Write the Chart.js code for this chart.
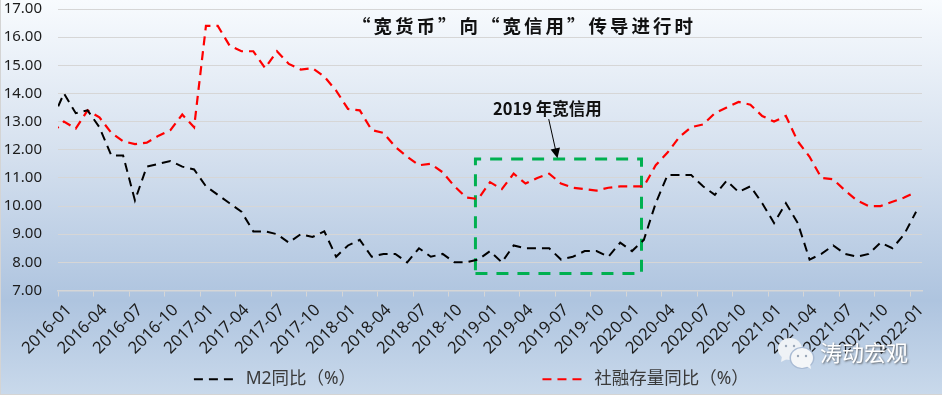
<!DOCTYPE html>
<html><head><meta charset="utf-8">
<style>
html,body{margin:0;padding:0}
#w{width:942px;height:395px;position:relative;overflow:hidden;box-sizing:border-box;
background:linear-gradient(180deg,#f8fbfe 0%,#d6e1ef 38%,#aec4df 76%,#c9d9eb 100%);
box-shadow:inset 1px -1px 0 #d4d4d4}
canvas{display:block;position:absolute;left:0;top:0}
</style>
<script src="https://cdn.jsdelivr.net/npm/chart.js@4"></script>
</head><body><div id="w"><canvas id="c" width="942" height="395"></canvas></div>
<script>
const tickLabels=['2016-01','2016-04','2016-07','2016-10','2017-01','2017-04','2017-07','2017-10','2018-01','2018-04','2018-07','2018-10','2019-01','2019-04','2019-07','2019-10','2020-01','2020-04','2020-07','2020-10','2021-01','2021-04','2021-07','2021-10','2022-01'];
// the first value belongs to the month before the axis starts; it is clipped at the left edge
const m2Values=[13.06,
14.0,13.3,13.4,12.8,11.8,11.8,10.2,11.4,11.5,11.6,11.4,11.3,
10.7,10.4,10.1,9.8,9.1,9.1,9.0,8.7,9.0,8.9,9.1,8.2,
8.6,8.8,8.2,8.3,8.3,8.0,8.5,8.2,8.3,8.0,8.0,8.1,
8.4,8.0,8.6,8.5,8.5,8.5,8.1,8.2,8.4,8.4,8.2,8.7,
8.4,8.8,10.1,11.1,11.1,11.1,10.7,10.4,10.9,10.5,10.7,10.1,
9.4,10.1,9.4,8.1,8.3,8.6,8.3,8.2,8.3,8.7,8.5,9.0,
9.8];
const tsfValues=[12.6,
13.0,12.75,13.4,13.15,12.6,12.3,12.2,12.25,12.5,12.7,13.25,12.8,
16.4,16.4,15.7,15.5,15.5,14.9,15.5,15.05,14.85,14.9,14.6,14.1,
13.45,13.4,12.7,12.6,12.1,11.75,11.45,11.5,11.2,10.7,10.3,10.25,
10.85,10.6,11.15,10.8,11.0,11.15,10.8,10.65,10.6,10.55,10.65,10.7,
10.7,10.7,11.45,11.9,12.45,12.8,12.9,13.3,13.5,13.7,13.6,13.2,
13.0,13.2,12.3,11.75,11.0,10.95,10.55,10.2,10.0,10.0,10.15,10.3,
10.5];
const yMin=7,yMax=17,monthCount=73,ticksEvery=3;
const boxX=[35.27,49.3],boxY=[7.6,11.67];
const arrowFrom=[41.46,13.09],arrowTo=[42.2,11.7];
const titleText='“宽货币”向“宽信用”传导进行时';
const noteText='2019 年宽信用';
const watermark='涛动宏观';
const series=v=>v.map((y,i)=>({x:i-0.5,y}));
const boxPts=[[0,0],[1,0],[1,1],[0,1],[0,0]].map(([a,b])=>({x:boxX[a],y:boxY[b]}));
const SANS='"Noto Sans","Noto Sans CJK SC",sans-serif';
const CJK='"Noto Sans CJK SC",serif';
const noPad=s=>{s.paddingTop=0;s.paddingBottom=0;s.paddingLeft=0;s.paddingRight=0;};
const extras={id:'extras',afterDraw(ch){
 const c=ch.ctx,X=ch.scales.x,Y=ch.scales.y;
 c.save();
 c.fillStyle='#111';c.textBaseline='middle';c.textAlign='left';
 c.font='bold 18.5px '+CJK;c.letterSpacing='3px';c.fillText(titleText,352,26);c.letterSpacing='0px';
 c.font='bold 16.5px '+CJK;c.fillText(noteText,493,109);
 const x1=X.getPixelForValue(arrowFrom[0]),y1=Y.getPixelForValue(arrowFrom[1]),x2=X.getPixelForValue(arrowTo[0]),y2=Y.getPixelForValue(arrowTo[1]);
 const a=Math.atan2(y2-y1,x2-x1);
 c.strokeStyle='#000';c.lineWidth=1;c.beginPath();c.moveTo(x1,y1);c.lineTo(x2-9*Math.cos(a),y2-9*Math.sin(a));c.stroke();
 c.fillStyle='#000';c.beginPath();c.moveTo(x2,y2);
 c.lineTo(x2-11*Math.cos(a-0.45),y2-11*Math.sin(a-0.45));c.lineTo(x2-11*Math.cos(a+0.45),y2-11*Math.sin(a+0.45));c.closePath();c.fill();
 // watermark
 c.shadowColor='rgba(60,60,60,.7)';c.shadowBlur=2;c.shadowOffsetX=1;c.shadowOffsetY=1;
 c.fillStyle='#fff';c.font='22px "Noto Sans CJK SC",sans-serif';c.fillText(watermark,820,353);
 c.shadowColor='transparent';
 c.fillStyle='#eef2f6';c.beginPath();c.ellipse(790,349,12,11,0,0,7);c.fill();
 c.beginPath();c.moveTo(782,356);c.lineTo(781,362);c.lineTo(789,358);c.fill();
 c.fillStyle='#a9bbd4';c.beginPath();c.ellipse(802,358,12.5,11,0,0,7);c.fill();
 c.fillStyle='#f4f6f8';c.beginPath();c.ellipse(802,358,11,10,0,0,7);c.fill();
 c.beginPath();c.moveTo(806,366);c.lineTo(811,369);c.lineTo(810,363);c.fill();
 c.fillStyle='#9aa7b8';for(const [px,py] of [[786,346],[794,346],[798,356],[806,356]]){c.beginPath();c.arc(px,py,1.2,0,7);c.fill();}
 c.restore();
}};
new Chart(document.getElementById('c'),{
 type:'line',
 data:{datasets:[
  {label:'M2同比（%）',data:series(m2Values),borderColor:'#000',backgroundColor:'#000',borderWidth:2,borderDash:[9,6],pointRadius:0,tension:0},
  {label:'社融存量同比（%）',data:series(tsfValues),borderColor:'#ff0000',backgroundColor:'#ff0000',borderWidth:2.2,borderDash:[9,6],pointRadius:0,tension:0},
  {label:'框',data:boxPts,borderColor:'#00b050',borderWidth:3,borderDash:[12,9],pointRadius:0,tension:0}
 ]},
 options:{
  responsive:false,animation:false,devicePixelRatio:1,
  layout:{autoPadding:false,padding:{top:9,right:20,bottom:-3,left:0}},
  plugins:{
   title:{display:false},tooltip:{enabled:false},
   legend:{display:true,position:'bottom',align:'end',labels:{
     font:{size:17.5,family:SANS},color:'#3a3a3a',padding:7,usePointStyle:true,pointStyle:'line',pointStyleWidth:43,
     generateLabels(ch){
       const items=Chart.defaults.plugins.legend.labels.generateLabels(ch).filter(i=>i.datasetIndex<2);
       items.forEach(i=>{i.pointStyle='line';i.lineWidth=2;i.lineDash=[9,6];i.text=i.text+(i.datasetIndex===0?'\u2003'.repeat(10)+'\u2005':'\u2003'.repeat(9)+'\u2002');});
       return items;
     }}}
  },
  scales:{
   x:{type:'linear',min:0,max:monthCount,
      afterFit(s){s.height=73;noPad(s);},
      border:{display:true,color:'#d6d6d6',width:1.5},
      grid:{drawOnChartArea:false,drawTicks:true,tickLength:6,color:'#d6d6d6'},
      ticks:{stepSize:ticksEvery,includeBounds:false,autoSkip:false,maxRotation:45,minRotation:45,labelOffset:11,padding:4,
        font:{size:16.5,family:SANS},color:'#1c1c1c',callback:v=>tickLabels[v/ticksEvery]}},
   y:{min:yMin,max:yMax,
      afterFit(s){s.width=58;noPad(s);},
      border:{display:false},
      grid:{color:'#d6d6d6',lineWidth:1,drawTicks:false},
      ticks:{stepSize:1,padding:16,font:{size:15,family:SANS},color:'#1c1c1c',callback:v=>v.toFixed(2)}}
  }
 },
 plugins:[extras]
});
</script></body></html>
